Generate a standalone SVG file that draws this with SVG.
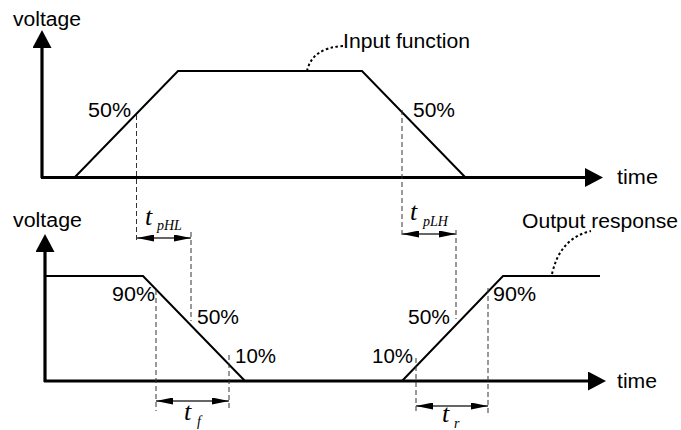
<svg xmlns="http://www.w3.org/2000/svg" width="681" height="430" viewBox="0 0 681 430">
<style>
.ax{stroke:#000;stroke-width:3.2;fill:none}
.wv{stroke:#000;stroke-width:2;fill:none;stroke-linejoin:miter}
.dash{stroke:#333;stroke-width:1;stroke-dasharray:5 3;fill:none}
.dot{stroke:#000;stroke-width:2;stroke-dasharray:2.5 2.5;fill:none}
.meas{stroke:#666;stroke-width:2;fill:none}
.lbl{font-family:"Liberation Sans",Arial,sans-serif;font-size:20px;fill:#000}
.tm{font-family:"Liberation Serif","Times New Roman",serif;font-style:italic;fill:#000}
</style>
<defs>
<marker id="axh" viewBox="0 0 18 19" refX="1" refY="9.5" markerWidth="18" markerHeight="19" markerUnits="userSpaceOnUse" orient="auto"><path d="M0,0 L18,9.5 L0,19 z" fill="#000"/></marker>
<marker id="mh" viewBox="0 0 17 7" refX="17" refY="3.5" markerWidth="17" markerHeight="7" markerUnits="userSpaceOnUse" orient="auto-start-reverse"><path d="M0,0 L17,3.5 L0,7 z" fill="#000"/></marker>
</defs>
<g id="top-axes">
<path class="ax" d="M42,178 L42,47" marker-end="url(#axh)"/>
<path class="ax" d="M41,177.5 L586,177.5" marker-end="url(#axh)"/>
<text class="lbl" x="13" y="26" textLength="68" lengthAdjust="spacingAndGlyphs">voltage</text>
<text class="lbl" x="617" y="184" textLength="41" lengthAdjust="spacingAndGlyphs">time</text>
</g>
<g id="bottom-axes">
<path class="ax" d="M45,382 L45,251" marker-end="url(#axh)"/>
<path class="ax" d="M44,381 L589,381" marker-end="url(#axh)"/>
<text class="lbl" x="13" y="227" textLength="69" lengthAdjust="spacingAndGlyphs">voltage</text>
<text class="lbl" x="617" y="388" textLength="40" lengthAdjust="spacingAndGlyphs">time</text>
</g>
<g id="input-function">
<path class="wv" d="M75,177 L178,71 L362,71 L465,177"/>
<path class="dot" d="M307,71 Q312,48 343,46"/>
<text class="lbl" x="343" y="48" textLength="127" lengthAdjust="spacingAndGlyphs">Input function</text>
<text class="lbl" x="88" y="117" textLength="43" lengthAdjust="spacingAndGlyphs">50%</text>
<text class="lbl" x="413" y="117" textLength="42" lengthAdjust="spacingAndGlyphs">50%</text>
</g>
<g id="output-response">
<path class="wv" d="M45,276 L143,276 L245,381"/>
<path class="wv" d="M402,381 L503,276 L600,276"/>
<path class="dot" d="M552,274 Q560,238 591,231"/>
<text class="lbl" x="522" y="228" textLength="156" lengthAdjust="spacingAndGlyphs">Output response</text>
<text class="lbl" x="112" y="301" textLength="43" lengthAdjust="spacingAndGlyphs">90%</text>
<text class="lbl" x="197" y="324" textLength="42" lengthAdjust="spacingAndGlyphs">50%</text>
<text class="lbl" x="235" y="363" textLength="41" lengthAdjust="spacingAndGlyphs">10%</text>
<text class="lbl" x="408" y="324" textLength="42" lengthAdjust="spacingAndGlyphs">50%</text>
<text class="lbl" x="372" y="363" textLength="41" lengthAdjust="spacingAndGlyphs">10%</text>
<text class="lbl" x="493" y="301" textLength="43" lengthAdjust="spacingAndGlyphs">90%</text>
</g>
<g id="connectors">
<path class="dash" d="M136.5,115 L136.5,243"/>
<path class="dash" d="M402,110 L402,238"/>
<path class="dash" d="M191,232 L191,321"/>
<path class="dash" d="M156,290 L156,411"/>
<path class="dash" d="M229,355 L229,411"/>
<path class="dash" d="M456,230 L456,319"/>
<path class="dash" d="M416,358 L416,414"/>
<path class="dash" d="M488,288 L488,414"/>
<path class="meas" d="M137,238 L191,238" marker-start="url(#mh)" marker-end="url(#mh)"/>
<path class="meas" d="M402,234 L456,234" marker-start="url(#mh)" marker-end="url(#mh)"/>
<path class="meas" d="M156,401 L229,401" marker-start="url(#mh)" marker-end="url(#mh)"/>
<path class="meas" d="M416,406 L488,406" marker-start="url(#mh)" marker-end="url(#mh)"/>
</g>
<g id="time-labels">
<text class="tm" x="145" y="225" font-size="26">t</text>
<text class="tm" x="157" y="230" font-size="14">pHL</text>
<text class="tm" x="410" y="220" font-size="26">t</text>
<text class="tm" x="423" y="226" font-size="14">pLH</text>
<text class="tm" x="184" y="420" font-size="26">t</text>
<text class="tm" x="197" y="426" font-size="14">f</text>
<text class="tm" x="442" y="422" font-size="26">t</text>
<text class="tm" x="454" y="428" font-size="14">r</text>
</g>
</svg>
